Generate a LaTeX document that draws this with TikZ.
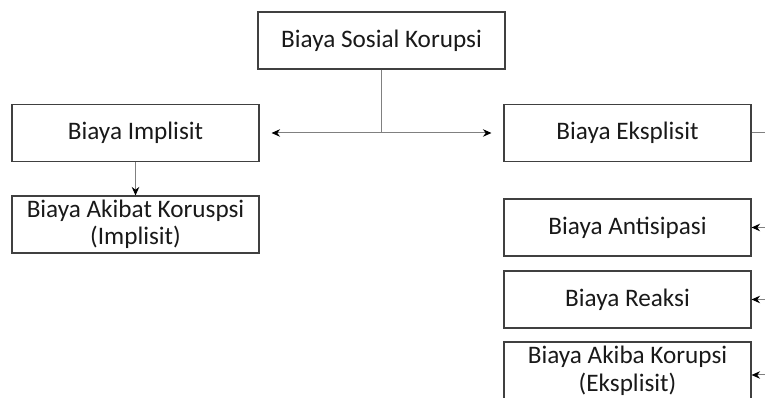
\documentclass[tikz,border=0pt]{standalone}
\usepackage{fontspec}
\setmainfont{Carlito}
\usetikzlibrary{arrows.meta,positioning}
\definecolor{tepi}{rgb}{0.25,0.25,0.25}
\definecolor{garis}{rgb}{0.50,0.50,0.50}

\begin{document}
\begin{tikzpicture}[x=1pt,y=1pt,
  kotak/.style={draw=tepi,line width=1.1pt,minimum width=247pt,minimum height=57pt,
    inner sep=0pt,align=center,text=black!90,
    font=\fontsize{25.2}{27.5}\selectfont},
  panah/.style={draw=garis,line width=1pt,-{Stealth[length=8.5pt,width=7.5pt,color=black]}},
  garisan/.style={draw=garis,line width=1pt}]
\useasboundingbox (0,0) rectangle (765,398);
\clip (0,0) rectangle (765,398);

% top box
  \node[kotak] (sosial) at (381.5,357.5) {Biaya Sosial Korupsi};

% implicit side
  \node[kotak] (implisit) at (135.5,265) {Biaya Implisit};
  \node[kotak] (akibatI) at (135.5,173.5) {Biaya Akibat Koruspsi\\(Implisit)};

% explicit side
  \node[kotak] (eksplisit) at (627.5,265) {Biaya Eksplisit};
  \node[kotak] (antisipasi) at (627.5,170.5) {Biaya Antisipasi};
  \node[kotak] (reaksi) at (627.5,98.5) {Biaya Reaksi};
  \node[kotak,minimum height=58pt] (akibatE) at (627.5,27) {Biaya Akiba Korupsi\\(Eksplisit)};

% junction and rail
  \coordinate (cabang) at (sosial.south |- implisit.east);
  \coordinate (rel) at (790,265);

% Arrows
  \draw[garisan] (sosial.south) -- (cabang);
  \draw[panah,shorten >=12pt] (cabang) -- (implisit.east);
  \draw[panah,shorten >=12pt] (cabang) -- (eksplisit.west);
  \draw[panah] (implisit) -- (akibatI);
  \draw[garisan] (eksplisit.east) -- (rel) -- (rel |- akibatE.east);
  \foreach \b in {antisipasi,reaksi}
    \draw[panah] (rel |- \b.east) -- (\b.east);
  \draw[panah] (rel |- 0,23) -- (akibatE.east |- 0,23);
\end{tikzpicture}
\end{document}
